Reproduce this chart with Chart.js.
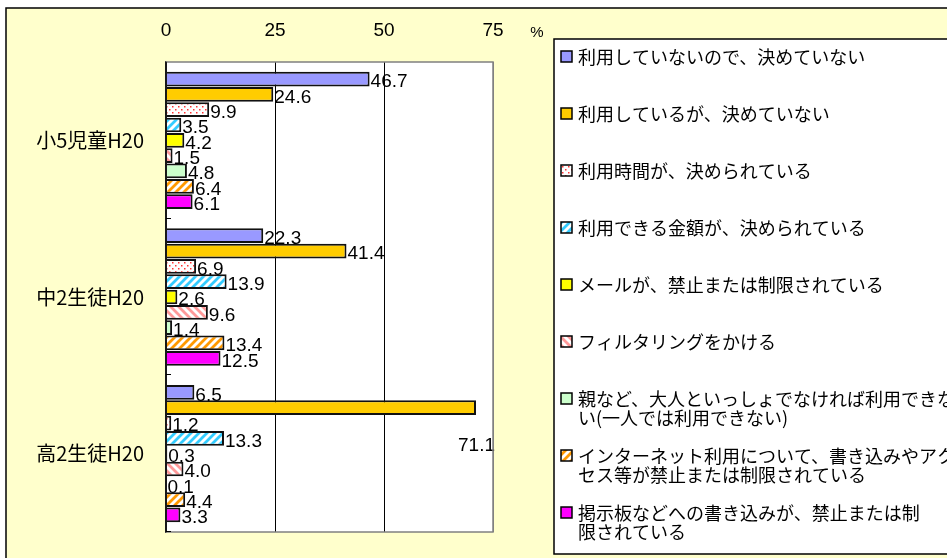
<!DOCTYPE html>
<html>
<head>
<meta charset="utf-8">
<script src="https://cdn.jsdelivr.net/npm/chart.js@4.4.1/dist/chart.umd.min.js"></script>
<style>
  html, body { margin: 0; padding: 0; background: #fff; }
  #wrap { width: 947px; height: 558px; }
</style>
</head>
<body>
<div id="wrap"><canvas id="chart" width="947" height="558"></canvas></div>
<script>
const categories = ['小5児童H20', '中2生徒H20', '高2生徒H20'];
const xTicks = [0, 25, 50, 75];
const seriesNames = [
  '利用していないので、決めていない',
  '利用しているが、決めていない',
  '利用時間が、決められている',
  '利用できる金額が、決められている',
  'メールが、禁止または制限されている',
  'フィルタリングをかける',
  '親など、大人といっしょでなければ利用できな\nい(一人では利用できない)',
  'インターネット利用について、書き込みやアク\nセス等が禁止または制限されている',
  '掲示板などへの書き込みが、禁止または制\n限されている'
];
const notUsing      = [46.7, 22.3, 6.5];
const usingNoRule   = [24.6, 41.4, 71.1];
const timeLimit     = [9.9, 6.9, 1.2];
const moneyLimit    = [3.5, 13.9, 13.3];
const mailLimit     = [4.2, 2.6, 0.3];
const filtering     = [1.5, 9.6, 4.0];
const withAdult     = [4.8, 1.4, 0.1];
const writeLimit    = [6.4, 13.4, 4.4];
const boardLimit    = [6.1, 12.5, 3.3];
const seriesValues = [notUsing, usingNoRule, timeLimit, moneyLimit, mailLimit, filtering, withAdult, writeLimit, boardLimit];

const FONT_CJK = '"Noto Sans CJK JP", "Noto Sans", sans-serif';
const FONT_NUM = '"Liberation Sans", Arial, sans-serif';

function dots(color) {
  const c = document.createElement('canvas');
  c.width = c.height = 6;
  const g = c.getContext('2d');
  g.fillStyle = '#fff'; g.fillRect(0, 0, 6, 6);
  g.fillStyle = color;
  g.fillRect(1, 1, 1.5, 1.5);
  g.fillRect(4, 4, 1.5, 1.5);
  return g.createPattern(c, 'repeat');
}

function stripes(color, back) {
  const s = 8;
  const c = document.createElement('canvas');
  c.width = c.height = s;
  const g = c.getContext('2d');
  g.fillStyle = '#fff'; g.fillRect(0, 0, s, s);
  g.strokeStyle = color; g.lineWidth = 2.8;
  g.beginPath();
  if (!back) {
    g.moveTo(-2, 2); g.lineTo(2, -2);
    g.moveTo(0, s); g.lineTo(s, 0);
    g.moveTo(s - 2, s + 2); g.lineTo(s + 2, s - 2);
  } else {
    g.moveTo(-2, s - 2); g.lineTo(2, s + 2);
    g.moveTo(0, 0); g.lineTo(s, s);
    g.moveTo(s - 2, -2); g.lineTo(s + 2, 2);
  }
  g.stroke();
  return g.createPattern(c, 'repeat');
}

const fills = [
  '#9999FF',
  '#FFCC00',
  dots('#FF3333'),
  stripes('#33CCFF', false),
  '#FFFF00',
  stripes('#FF9999', true),
  '#CCFFCC',
  stripes('#FF9900', false),
  '#FF00FF'
];

// background, outer frame and plot box
const framePlugin = {
  id: 'frame',
  beforeDraw(chart) {
    const { ctx, chartArea: a } = chart;
    ctx.save();
    ctx.fillStyle = '#fff';
    ctx.fillRect(0, 0, chart.width, chart.height);
    ctx.fillStyle = '#FFFFCC';
    ctx.fillRect(6, 8, chart.width, chart.height);
    ctx.strokeStyle = '#000'; ctx.lineWidth = 1.5;
    ctx.strokeRect(6, 8, chart.width + 10, chart.height + 10);
    ctx.fillStyle = '#fff';
    ctx.fillRect(a.left, a.top, a.right - a.left, a.bottom - a.top);
    ctx.restore();
  },
  afterDraw(chart) {
    const { ctx, chartArea: a } = chart;
    const y = chart.scales.y;
    ctx.save();
    ctx.strokeStyle = '#808080'; ctx.lineWidth = 1.5;
    ctx.strokeRect(a.left, a.top, a.right - a.left, a.bottom - a.top);
    ctx.strokeStyle = '#000'; ctx.lineWidth = 1.5;
    ctx.beginPath(); ctx.moveTo(a.left, a.top); ctx.lineTo(a.left, a.bottom); ctx.stroke();
    // little category ticks inside the plot
    ctx.lineWidth = 1;
    ctx.beginPath();
    for (let i = 0; i < categories.length; i++) {
      const p = Math.round(y.getPixelForValue(i + 0.5)) - 0.5;
      ctx.moveTo(a.left, p); ctx.lineTo(a.left + 5, p);
    }
    ctx.stroke();
    // %
    ctx.fillStyle = '#000';
    ctx.font = '15px ' + FONT_NUM;
    ctx.textAlign = 'center'; ctx.textBaseline = 'middle';
    ctx.fillText('%', 537, 33);
    ctx.restore();
  }
};

const valueLabels = {
  id: 'valueLabels',
  afterDatasetsDraw(chart) {
    const { ctx, chartArea: a } = chart;
    ctx.save();
    ctx.font = '19px ' + FONT_NUM;
    ctx.fillStyle = '#000';
    ctx.textBaseline = 'middle';
    chart.data.datasets.forEach((ds, i) => {
      chart.getDatasetMeta(i).data.forEach((bar, j) => {
        const txt = ds.data[j].toFixed(1);
        const w = ctx.measureText(txt).width;
        if (bar.x + 2 + w > a.right) {
          ctx.textAlign = 'right';
          ctx.fillText(txt, a.right + 2, bar.y + bar.height * 2.6);
        } else {
          ctx.textAlign = 'left';
          ctx.fillText(txt, bar.x + 1, bar.y + 3);
        }
      });
    });
    ctx.restore();
  }
};

const boxLegend = {
  id: 'boxLegend',
  afterDraw(chart) {
    const { ctx } = chart;
    ctx.save();
    ctx.fillStyle = '#fff';
    ctx.fillRect(554, 39, chart.width, 515);
    ctx.strokeStyle = '#000'; ctx.lineWidth = 1.5;
    ctx.strokeRect(554, 39, chart.width, 515);
    ctx.font = '18px ' + FONT_CJK;
    ctx.textBaseline = 'middle'; ctx.textAlign = 'left';
    chart.data.datasets.forEach((ds, i) => {
      const y = 57 + i * 57;
      ctx.fillStyle = ds.backgroundColor;
      ctx.fillRect(561, y - 6, 11, 11);
      ctx.strokeStyle = '#000'; ctx.lineWidth = 1.5;
      ctx.strokeRect(561, y - 6, 11, 11);
      ctx.fillStyle = '#000';
      ds.label.split('\n').forEach((line, k) => ctx.fillText(line, 578, y + k * 19));
    });
    ctx.restore();
  }
};

new Chart(document.getElementById('chart'), {
  type: 'bar',
  data: {
    labels: categories,
    datasets: seriesNames.map((name, i) => ({
      label: name,
      data: seriesValues[i],
      backgroundColor: fills[i],
      borderColor: '#111',
      borderWidth: 2,
      categoryPercentage: 0.88,
      barPercentage: 0.96
    }))
  },
  options: {
    indexAxis: 'y',
    responsive: false,
    animation: false,
    events: [],
    layout: { padding: { left: 0, top: 0, right: 947 - 493, bottom: 558 - 536 } },
    plugins: { legend: { display: false }, tooltip: { enabled: false } },
    scales: {
      x: {
        position: 'top',
        min: 0, max: 75,
        afterBuildTicks: s => { s.ticks = xTicks.map(v => ({ value: v })); },
        afterFit: s => { s.height = 62; },
        ticks: { font: { family: FONT_NUM, size: 19 }, color: '#000', padding: 20 },
        grid: { drawTicks: false, color: c => (c.tick && c.tick.value === 75) ? '#808080' : '#000', lineWidth: 1 },
        border: { display: false }
      },
      y: {
        afterFit: s => { s.width = 166; },
        ticks: { font: { family: FONT_CJK, size: 20 }, color: '#000', padding: 14 },
        grid: { display: false },
        border: { color: '#000', width: 1.5 }
      }
    }
  },
  plugins: [framePlugin, valueLabels, boxLegend]
});
</script>
</body>
</html>
